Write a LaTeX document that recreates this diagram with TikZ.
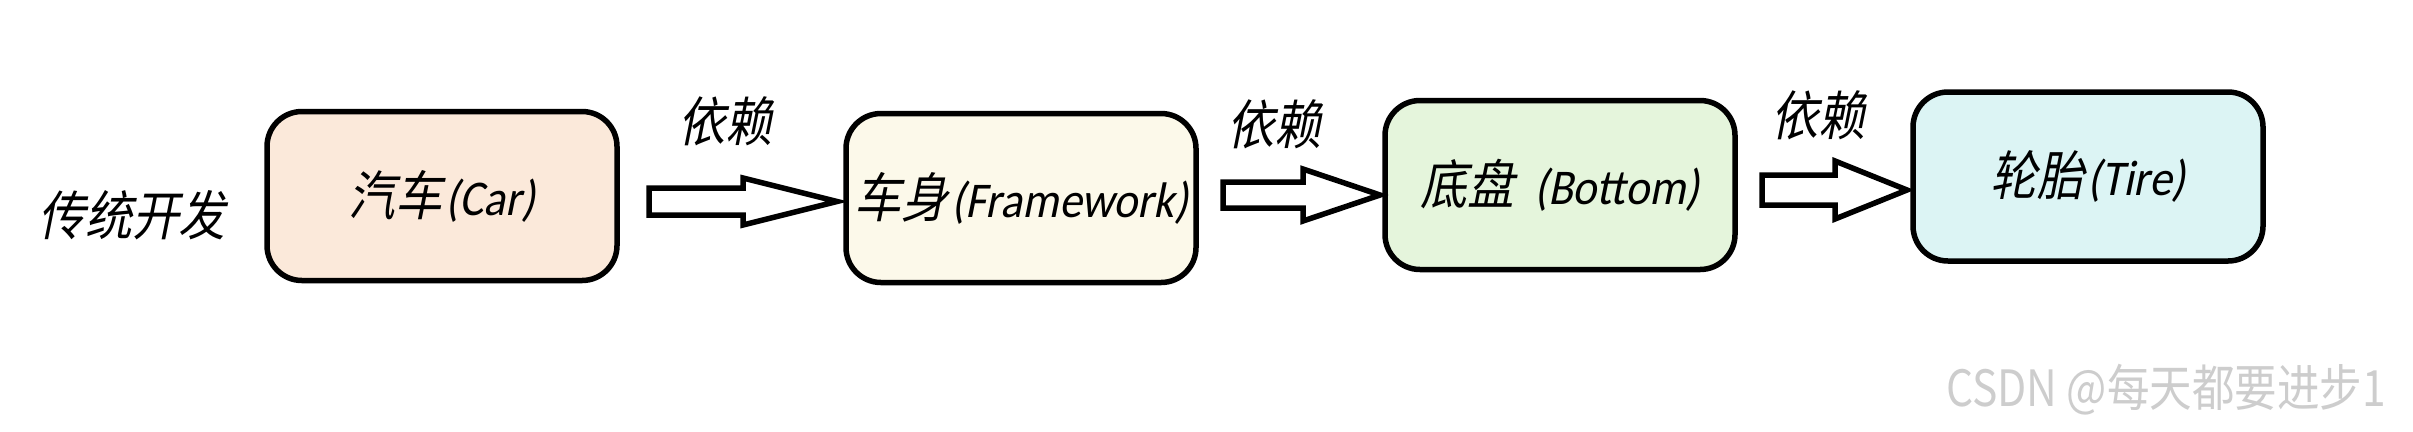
\documentclass[tikz,border=0pt]{standalone}
\usepackage{fontspec}
\newfontfamily\dgfont[FakeSlant=0.2,FakeStretch=0.88]{Noto Sans CJK SC}
\newfontfamily\latfont[FakeStretch=0.91,FakeSlant=0.2]{Carlito}
\newfontfamily\wmfont[FakeStretch=0.85]{Noto Sans CJK SC}
\newcommand\lttxt[1]{\hspace{1pt}{\latfont\fontsize{15pt}{17pt}\selectfont #1}}
\definecolor{cA}{HTML}{FBE9DA}
\definecolor{cB}{HTML}{FCF9EA}
\definecolor{cC}{HTML}{E5F5DC}
\definecolor{cD}{HTML}{DCF4F4}
\definecolor{wm}{HTML}{CDCDCD}
\tikzset{
  box/.style={draw=black, line width=1.65pt, rounded corners=10.5pt,
    minimum width=105pt, minimum height=50.7pt, inner sep=0pt,
    font=\dgfont\fontsize{16pt}{18pt}\selectfont},
  lbl/.style={inner sep=0pt, font=\dgfont\fontsize{16pt}{18pt}\selectfont},
  arr/.style={draw=black, line width=1.65pt, fill=white, line join=miter},
}
\newcommand\blkarrow[5]{\draw[arr] (#1) ++(0,-#4) -- ++(#2,0) -- ++(0,#4-#5) -- ++(#3,#5) -- ++(-#3,#5) -- ++(0,#4-#5) -- ++(-#2,0) -- cycle;}
\begin{document}
\begin{tikzpicture}[x=0.3pt,y=-0.3pt]
\useasboundingbox[fill=white] (0,0) rectangle (2413,431);
\node[lbl] (trad) at (132,215) {传统开发};
\node[box, fill=cA] (b1) at (442,196) {汽车\lttxt{(Car)}};
\node[box, fill=cB] (b2) at (1021,198) {车身\lttxt{(Framework)}};
\node[box, fill=cC] (b3) at (1560,185) {底盘\hspace{5pt}\lttxt{(Bottom)}};
\node[box, fill=cD] (b4) at (2088,176.5) {轮胎\lttxt{(Tire)}};
\node[lbl] (d1) at (725,121) {依赖};
\node[lbl] (d2) at (1274,124) {依赖};
\node[lbl] (d3) at (1818,115) {依赖};
\coordinate (s1) at (649,201.5);
\coordinate (s2) at (1223,195);
\coordinate (s3) at (1762,190);
\blkarrow{s1}{94}{94}{13.5}{23.5}
\blkarrow{s2}{80}{77}{13}{26}
\blkarrow{s3}{73}{72}{15}{29}
\node[inner sep=0pt, text=wm, font=\wmfont\fontsize{15pt}{17pt}\selectfont] (wmk) at (2166,390) {CSDN @每天都要进步1};
\end{tikzpicture}
\end{document}
